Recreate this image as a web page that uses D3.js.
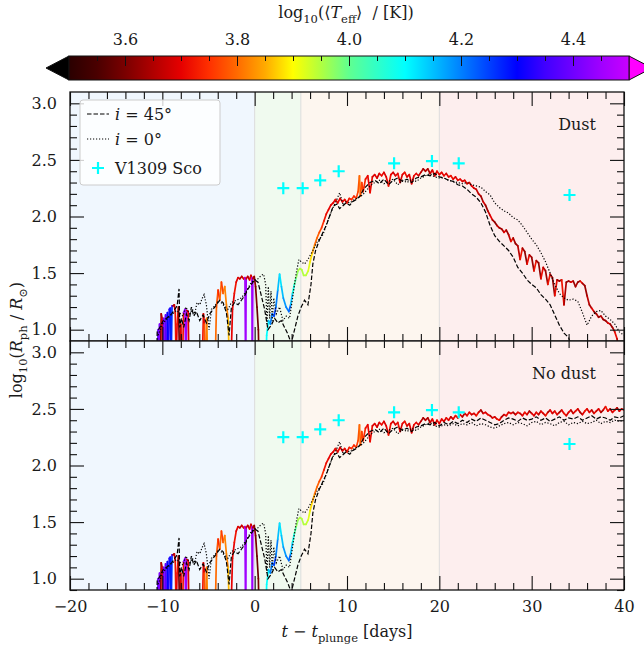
<!DOCTYPE html>
<html>
<head>
<meta charset="utf-8">
<script src="https://cdn.jsdelivr.net/npm/d3@7"></script>
<style>
  body { margin: 0; background: #fff; }
  svg { display: block; }
  text { font-family: "DejaVu Serif", serif; fill: #1a1a1a; }
</style>
</head>
<body>
<svg id="fig" width="644" height="650"></svg>
<script>
// ---------------- data ----------------
// Coloured photosphere track (shared by both runs until dust forms)
const colEarlyT = [-10.55,-10.45,-10.40,-10.30,-10.22,-10.12,-10.02,-9.95,-9.85,-9.75,-9.65,-9.55,-9.45,-9.35,-9.25,-9.15,-9.05,-8.95,-8.85,-8.70,
  -8.60,-8.50,-8.40,-8.25,-8.15,-8.00,-7.85,-7.70,-7.55,-7.45,-7.35,-7.20,-7.10,-5.70,-5.55,-5.45,-5.35,-5.20,-5.05,-4.30,
  -4.14,-3.96,-3.78,-3.60,-3.42,-3.24,-3.06,-2.88,-2.70,-2.60,-2.40,-2.20,-2.00,-1.80,-1.60,-1.40,-1.20,-1.05,-0.98,-0.92,
  -0.75,-0.55,-0.40,-0.30,-0.25,-0.20,-0.05,0.10,0.25,0.40,0.50,1.20,1.30,1.50,1.70,1.90,2.10,2.30,2.50,2.70,
  2.90,3.10,3.40,3.70,3.90,4.10,4.30,4.50,4.70,4.90,5.10,5.30,5.55,5.80,6.00,6.25,6.50,6.75,7.00,7.25,
  7.50,7.75,8.00,8.25,8.50,8.75,9.00,9.25,9.50,9.75,10.00,10.25,10.50,10.75,11.00,11.20,11.35,11.45,11.60,11.75];
const colEarlyR = [0.60,1.00,0.60,1.05,0.60,1.14,1.10,0.60,1.10,0.60,1.13,0.60,1.15,0.70,1.18,1.19,0.70,1.21,1.21,1.22,
  1.15,0.70,1.05,1.20,0.80,1.05,0.60,1.15,1.18,0.60,1.17,1.16,0.60,0.60,1.14,1.05,0.60,1.10,0.60,0.60,
  1.20,1.35,1.26,1.42,1.32,1.38,1.22,1.10,0.60,0.60,1.18,1.32,1.42,1.46,1.45,1.47,1.45,1.46,0.60,1.45,
  1.47,1.44,1.48,1.46,0.60,1.45,1.47,1.38,1.20,1.00,0.60,0.60,0.95,1.08,1.05,1.14,1.12,1.20,1.35,1.49,
  1.38,1.28,1.20,1.16,1.22,1.32,1.40,1.46,1.52,1.54,1.53,1.48,1.48,1.52,1.60,1.68,1.75,1.81,1.86,1.90,
  1.96,2.02,2.06,2.10,2.12,2.15,2.12,2.16,2.13,2.15,2.12,2.16,2.15,2.18,2.16,2.22,2.36,2.18,2.30,2.22];
const colEarlyTeff = [4.35,4.40,4.40,4.42,3.62,3.65,3.70,4.38,4.40,4.42,4.38,4.35,4.30,4.32,4.36,4.28,4.27,4.40,3.62,3.68,
  3.72,3.70,3.72,3.60,3.62,3.70,3.72,4.42,4.45,4.45,3.68,3.70,3.72,3.72,3.70,3.78,3.80,3.82,3.86,3.80,
  3.78,3.74,3.80,3.76,3.80,3.82,3.82,3.86,3.90,3.70,3.70,3.72,3.70,3.69,3.66,3.68,3.70,4.45,4.45,3.68,
  3.66,3.70,3.68,4.45,4.45,3.66,3.62,3.60,3.58,3.60,3.60,4.10,4.10,4.15,4.20,4.22,4.25,4.20,4.15,4.12,
  4.15,4.18,4.20,4.22,4.15,4.08,4.02,3.97,3.95,3.95,3.95,3.95,3.94,3.92,3.88,3.84,3.80,3.79,3.77,3.75,
  3.72,3.71,3.70,3.70,3.70,3.71,3.70,3.69,3.70,3.71,3.72,3.73,3.75,3.74,3.76,3.78,3.80,3.78,3.76,3.74];

// Plateau, t = 12 ... 20 d every 0.25 d (shared)
const plateauR = [2.33,2.36,2.21,2.35,2.37,2.34,2.38,2.36,2.39,2.35,2.27,2.37,2.39,2.36,2.38,2.30,2.37,
  2.39,2.35,2.37,2.29,2.36,2.38,2.36,2.39,2.42,2.40,2.42,2.38,2.41,2.36,2.40,2.37];
const plateauTeff = [3.72,3.70,3.71,3.69,3.70,3.68,3.70,3.71,3.69,3.70,3.72,3.70,3.68,3.70,3.71,3.69,3.70,
  3.72,3.68,3.70,3.69,3.71,3.70,3.67,3.66,3.64,3.66,3.65,3.68,3.70,3.69,3.71,3.70];

// Late phase, t = 20.25 ... 40 d every 0.25 d
const lateRDust = [2.39,2.36,2.38,2.35,2.36,2.33,2.35,2.32,2.33,2.31,2.32,2.29,2.30,2.27,2.25,2.24,
  2.20,2.18,2.13,2.10,2.05,2.01,1.97,1.95,1.92,1.90,1.89,1.86,1.88,1.84,1.78,1.81,
  1.76,1.74,1.62,1.72,1.69,1.58,1.66,1.64,1.52,1.61,1.59,1.45,1.55,1.52,1.40,1.49,
  1.46,1.30,1.44,1.43,1.44,1.22,1.42,1.43,1.42,1.43,1.38,1.42,1.43,1.41,1.39,1.30,
  1.22,1.19,1.16,1.14,1.11,1.12,1.09,1.08,1.06,1.05,1.02,0.98,0.92,0.70,0.60,0.55];
const lateTeffDust = [3.70,3.71,3.69,3.70,3.72,3.70,3.69,3.71,3.70,3.68,3.70,3.71,3.69,3.70,3.68,3.67,
  3.66,3.64,3.68,3.63,3.66,3.70,3.64,3.62,3.67,3.63,3.65,3.70,3.63,3.66,3.72,3.64,
  3.63,3.66,3.72,3.64,3.62,3.71,3.65,3.63,3.72,3.64,3.62,3.71,3.66,3.63,3.72,3.65,
  3.62,3.71,3.64,3.63,3.72,3.65,3.62,3.64,3.70,3.63,3.65,3.62,3.71,3.64,3.63,3.66,
  3.64,3.70,3.62,3.65,3.63,3.66,3.62,3.64,3.70,3.63,3.65,3.71,3.66,3.64,3.62,3.60];
const lateRNoDust = [2.41,2.39,2.42,2.40,2.43,2.41,2.44,2.42,2.45,2.43,2.46,2.44,2.47,2.45,2.46,2.44,
  2.47,2.49,2.46,2.47,2.45,2.44,2.42,2.43,2.41,2.40,2.43,2.45,2.44,2.47,2.46,2.47,
  2.45,2.47,2.46,2.44,2.47,2.45,2.48,2.46,2.44,2.47,2.45,2.48,2.46,2.44,2.47,2.49,
  2.46,2.48,2.45,2.47,2.49,2.46,2.44,2.47,2.49,2.46,2.48,2.50,2.47,2.45,2.48,2.50,
  2.47,2.49,2.46,2.48,2.50,2.47,2.49,2.52,2.48,2.50,2.47,2.49,2.51,2.48,2.50,2.49];
const lateTeffNoDust = [3.70,3.68,3.71,3.69,3.66,3.70,3.72,3.68,3.70,3.65,3.69,3.71,3.70,3.67,3.70,3.72,
  3.68,3.64,3.70,3.69,3.71,3.66,3.70,3.68,3.72,3.70,3.65,3.69,3.71,3.68,3.70,3.64,
  3.69,3.71,3.67,3.70,3.72,3.68,3.64,3.70,3.69,3.71,3.66,3.70,3.68,3.72,3.65,3.70,
  3.68,3.71,3.69,3.64,3.70,3.72,3.68,3.70,3.66,3.69,3.71,3.68,3.64,3.70,3.72,3.69,
  3.70,3.66,3.71,3.68,3.70,3.64,3.69,3.72,3.70,3.67,3.70,3.71,3.65,3.69,3.70,3.68];

// i = 45 deg (dashed) and i = 0 deg (dotted), shared early phase
const dashEarlyT = [-10.63,-10.56,-10.27,-9.91,-9.55,-9.00,-8.65,-8.40,-8.19,-8.11,-7.93,-7.68,-7.39,-7.10,-6.85,
  -6.60,-6.31,-5.95,-5.59,-5.23,-4.86,-4.50,-4.14,-3.78,-3.42,-3.06,-2.77,-2.52,-2.16,-1.80,
  -1.44,-1.08,-0.72,-0.36,0.00,0.36,0.72,1.08,1.44,1.80,2.16,2.52,2.88,3.24,3.60,
  3.96,4.32,4.68,5.04,5.40,5.77,6.10,6.30,6.60,7.00,7.40,7.80,8.10,8.50,8.90,
  9.20,9.50,9.90,10.30,10.60,11.00,11.40,11.80,12.00];
const dashEarlyR = [0.60,0.98,1.02,1.08,1.10,1.14,1.18,1.21,1.36,1.02,1.10,1.02,1.14,1.08,1.20,
  1.12,1.16,1.08,1.13,1.06,1.14,1.18,1.22,1.26,1.24,1.15,0.95,1.20,1.24,1.22,
  1.26,1.30,1.36,1.40,1.44,1.42,1.30,1.18,1.00,1.04,1.10,1.06,1.08,1.02,0.96,
  0.88,1.00,1.12,1.20,1.26,1.22,1.40,1.58,1.70,1.79,1.86,1.93,2.00,2.09,2.11,
  2.07,2.09,2.12,2.10,2.13,2.15,2.18,2.24,2.26];
const dotEarlyT = [-10.45,-9.91,-9.19,-8.47,-7.75,-7.46,-7.03,-6.74,-6.49,-6.24,-5.95,-5.66,-5.48,-5.23,-4.94,
  -4.68,-4.32,-3.86,-3.42,-2.88,-2.52,-1.98,-1.44,-0.90,-0.36,0.00,0.36,0.72,0.97,1.19,
  1.33,1.48,1.62,1.77,1.91,2.06,2.34,2.70,3.06,3.42,3.78,4.14,4.50,4.79,5.04,
  5.40,5.77,6.30,6.80,7.40,7.90,8.50,8.90,9.20,9.60,9.90,10.30,10.80,11.30,11.70,12.00];
const dotEarlyR = [0.95,1.06,1.12,1.17,1.12,1.20,1.14,1.18,1.14,1.24,1.22,1.28,1.31,1.22,1.00,
  1.18,1.21,1.26,1.22,1.18,1.24,1.26,1.28,1.34,1.42,1.44,1.45,1.48,1.49,1.40,
  1.05,1.38,1.10,1.34,1.08,1.28,1.14,1.20,1.08,1.12,1.10,1.30,1.50,1.62,1.60,
  1.58,1.62,1.70,1.78,1.84,1.96,2.08,2.15,2.21,2.10,2.13,2.12,2.15,2.17,2.19,2.22];
// t = 12.5 ... 20 d every 0.5 d (shared)
const dashMidR = [2.30,2.32,2.29,2.33,2.28,2.32,2.34,2.31,2.33,2.30,2.34,2.35,2.37,2.36,2.38,2.35];
const dotMidR  = [2.27,2.30,2.32,2.29,2.31,2.33,2.28,2.32,2.30,2.33,2.31,2.34,2.36,2.38,2.35,2.34];
// t = 20.5 ... 40 d every 0.5 d
const dashLateRDust = [2.34,2.32,2.31,2.28,2.27,2.24,2.20,2.17,2.12,2.04,1.92,1.83,1.78,1.74,1.70,
  1.64,1.55,1.50,1.44,1.40,1.37,1.31,1.27,1.22,1.13,1.04,0.97,0.93,0.80,0.60];
const dotLateRDust = [2.34,2.32,2.31,2.30,2.29,2.30,2.28,2.27,2.26,2.22,2.19,2.12,2.08,2.05,2.03,
  1.99,1.97,1.92,1.86,1.80,1.75,1.68,1.60,1.50,1.40,1.32,1.28,1.26,1.27,1.25,
  1.15,1.04,1.12,1.16,1.17,1.12,1.09,1.05,0.98,0.95];
const dashLateRNoDust = [2.38,2.36,2.39,2.37,2.40,2.38,2.41,2.39,2.42,2.40,2.38,2.36,2.37,2.40,2.42,
  2.41,2.39,2.42,2.40,2.41,2.43,2.40,2.42,2.39,2.41,2.43,2.40,2.42,2.41,2.43,
  2.40,2.42,2.44,2.41,2.43,2.42,2.40,2.43,2.42,2.44];
const dotLateRNoDust = [2.36,2.35,2.37,2.35,2.37,2.36,2.38,2.35,2.37,2.36,2.34,2.33,2.35,2.37,2.38,
  2.36,2.38,2.37,2.35,2.38,2.39,2.36,2.38,2.37,2.35,2.38,2.39,2.36,2.38,2.37,
  2.39,2.37,2.38,2.40,2.37,2.39,2.38,2.40,2.39,2.40];

// V1309 Sco observations
const obsT = [3.1, 5.2, 7.1, 9.1, 15.1, 19.2, 22.1, 34.1];
const obsR = [2.25, 2.25, 2.32, 2.40, 2.47, 2.49, 2.47, 2.19];

// Evolution phases (shaded backgrounds)
const phaseEdges = [-20, 0, 5, 20, 40];
const phaseFills = ["#f0f7fe", "#f0faef", "#fdf6ef", "#fdeeee"];

// Axis ticks
const xMajor = [-20, -10, 0, 10, 20, 30, 40];
const yMajor = [1.0, 1.5, 2.0, 2.5, 3.0];
const cbMajor = [3.6, 3.8, 4.0, 4.2, 4.4];

// Temperature colour map
const cmapStops = [3.50,3.55,3.60,3.65,3.70,3.75,3.80,3.85,3.90,3.95,4.00,4.05,4.10,4.15,4.20,4.25,4.30,4.35,4.40,4.45,4.50];
const cmapColors = ["#2a0000","#4a0000","#7a0000","#b00000","#e60000","#ff3000","#ff6a00","#ffaa00","#ffff00","#b0ff40",
  "#60ff90","#30ffc8","#00ffff","#00c0ff","#0080ff","#0040ff","#0000ff","#4000ff","#7000ff","#a000ff","#c800ff"];

// ---------------- layout ----------------
const svg = d3.select("#fig");
const X0 = 70, X1 = 624;
const FS = 16;
const x = d3.scaleLinear().domain([-20, 40]).range([X0, X1]);
const cmap = d3.scaleLinear().domain(cmapStops).range(cmapColors).interpolate(d3.interpolateRgb).clamp(true);

const plateauT = d3.range(12, 20.001, 0.25);
const lateT = d3.range(20.25, 40.001, 0.25);
const midBlackT = d3.range(12.5, 20.001, 0.5);
const lateBlackT = d3.range(20.5, 40.001, 0.5);

function track(lateR, lateTeff) {
  const t = colEarlyT.concat(plateauT, lateT);
  const r = colEarlyR.concat(plateauR, lateR);
  const te = colEarlyTeff.concat(plateauTeff, lateTeff);
  return t.map((d, i) => ({ t: d, r: r[i], te: te[i] }));
}
function blackLine(earlyT, earlyR, midR, lateR) {
  const pts = earlyT.map((d, i) => [d, earlyR[i]]);
  midR.forEach((v, i) => pts.push([midBlackT[i], v]));
  lateR.forEach((v, i) => pts.push([lateBlackT[i], v]));
  return pts;
}

const panels = [
  { y0: 92, y1: 341, label: "Dust", labelY: 130,
    track: track(lateRDust, lateTeffDust),
    dash: blackLine(dashEarlyT, dashEarlyR, dashMidR, dashLateRDust),
    dot: blackLine(dotEarlyT, dotEarlyR, dotMidR, dotLateRDust), xLabels: false },
  { y0: 341, y1: 590, label: "No dust", labelY: 379,
    track: track(lateRNoDust, lateTeffNoDust),
    dash: blackLine(dashEarlyT, dashEarlyR, dashMidR, dashLateRNoDust),
    dot: blackLine(dotEarlyT, dotEarlyR, dotMidR, dotLateRNoDust), xLabels: true }
];

function richText(sel, parts, size) {
  let shift = 0;
  parts.forEach(p => {
    const ts = sel.append("tspan").text(p.t);
    const target = p.sub ? size * 0.32 : 0;
    if (target !== shift) { ts.attr("dy", target - shift); shift = target; }
    if (p.sub) ts.attr("font-size", size * 0.72);
    if (p.it) ts.attr("font-style", "italic");
  });
}
const crossPath = "M-6,0H6M0,-6V6";

panels.forEach((p, k) => {
  const y = d3.scaleLinear().domain([0.9, 3.1]).range([p.y1, p.y0]);
  const g = svg.append("g");
  const clipId = "clip" + k;
  svg.append("clipPath").attr("id", clipId).append("rect")
    .attr("x", X0).attr("y", p.y0).attr("width", X1 - X0).attr("height", p.y1 - p.y0);
  const plot = g.append("g").attr("clip-path", `url(#${clipId})`);

  // phase shading
  plot.selectAll("rect.phase").data(d3.range(phaseFills.length)).join("rect")
    .attr("x", i => x(phaseEdges[i])).attr("width", i => x(phaseEdges[i + 1]) - x(phaseEdges[i]))
    .attr("y", p.y0).attr("height", p.y1 - p.y0).attr("fill", i => phaseFills[i]);
  plot.selectAll("line.sep").data(phaseEdges.slice(1, -1)).join("line")
    .attr("x1", d => x(d)).attr("x2", d => x(d)).attr("y1", p.y0).attr("y2", p.y1)
    .attr("stroke", "#dcdcdc").attr("stroke-width", 1);

  // coloured track, each segment coloured by temperature
  const segs = d3.pairs(p.track);
  plot.append("g").selectAll("line").data(segs).join("line")
    .attr("x1", d => x(d[0].t)).attr("y1", d => y(d[0].r))
    .attr("x2", d => x(d[1].t)).attr("y2", d => y(d[1].r))
    .attr("stroke", d => cmap(d[0].te)).attr("stroke-width", 1.7).attr("stroke-linecap", "round");

  const line = d3.line().x(d => x(d[0])).y(d => y(d[1]));
  plot.append("path").attr("d", line(p.dash)).attr("fill", "none")
    .attr("stroke", "#000").attr("stroke-width", 1.2).attr("stroke-dasharray", "4.5,2");
  plot.append("path").attr("d", line(p.dot)).attr("fill", "none")
    .attr("stroke", "#000").attr("stroke-width", 1.2).attr("stroke-dasharray", "1.2,1.8");

  // observations
  plot.selectAll("path.obs").data(obsT).join("path")
    .attr("d", crossPath).attr("transform", (d, i) => `translate(${x(d)},${y(obsR[i])})`)
    .attr("stroke", "#00ffff").attr("stroke-width", 2.2).attr("fill", "none");

  // axes with inward ticks
  const styleAxis = a => a.call(s => s.select(".domain").remove())
    .attr("font-size", FS).attr("font-family", "DejaVu Serif")
    .call(s => s.selectAll("line").attr("stroke", "#111").attr("stroke-width", 1.1));
  const xMinor = d3.range(-20, 40.1, 2).filter(v => v % 10 !== 0);
  const yMinor = d3.range(9, 31).map(v => v / 10).filter(v => Math.round(v * 10) % 5 !== 0);
  const fmtX = d => d < 0 ? "\u2212" + Math.abs(d) : String(d);

  g.append("g").attr("transform", `translate(0,${p.y1})`)
    .call(d3.axisBottom(x).tickValues(xMajor).tickSize(-14).tickPadding(11).tickFormat(p.xLabels ? fmtX : () => ""))
    .call(styleAxis);
  g.append("g").attr("transform", `translate(0,${p.y1})`)
    .call(d3.axisBottom(x).tickValues(xMinor).tickSize(-7).tickFormat(() => "")).call(styleAxis);
  g.append("g").attr("transform", `translate(0,${p.y0})`)
    .call(d3.axisTop(x).tickValues(xMajor).tickSize(-14).tickFormat(() => "")).call(styleAxis);
  g.append("g").attr("transform", `translate(0,${p.y0})`)
    .call(d3.axisTop(x).tickValues(xMinor).tickSize(-7).tickFormat(() => "")).call(styleAxis);
  g.append("g").attr("transform", `translate(${X0},0)`)
    .call(d3.axisLeft(y).tickValues(yMajor).tickSize(-14).tickPadding(13).tickFormat(d3.format(".1f")))
    .call(styleAxis);
  g.append("g").attr("transform", `translate(${X0},0)`)
    .call(d3.axisLeft(y).tickValues(yMinor).tickSize(-7).tickFormat(() => "")).call(styleAxis);
  g.append("g").attr("transform", `translate(${X1},0)`)
    .call(d3.axisRight(y).tickValues(yMajor).tickSize(-14).tickFormat(() => "")).call(styleAxis);
  g.append("g").attr("transform", `translate(${X1},0)`)
    .call(d3.axisRight(y).tickValues(yMinor).tickSize(-7).tickFormat(() => "")).call(styleAxis);

  g.append("rect").attr("x", X0).attr("y", p.y0).attr("width", X1 - X0).attr("height", p.y1 - p.y0)
    .attr("fill", "none").attr("stroke", "#111").attr("stroke-width", 1.3);

  g.append("text").attr("x", 596).attr("y", p.labelY).attr("text-anchor", "end")
    .attr("font-size", FS).text(p.label);
});

// legend
const lg = svg.append("g");
lg.append("rect").attr("x", 80).attr("y", 100).attr("width", 140).attr("height", 85).attr("rx", 3)
  .attr("fill", "#fff").attr("fill-opacity", 0.8).attr("stroke", "#cccccc").attr("stroke-width", 1);
const legendRows = [
  { y: 114, kind: "dash", parts: [{ t: "i", it: true }, { t: " = 45°" }] },
  { y: 139, kind: "dot", parts: [{ t: "i", it: true }, { t: " = 0°" }] },
  { y: 168, kind: "obs", parts: [{ t: "V1309 Sco" }] }
];
legendRows.forEach(r => {
  if (r.kind === "obs") {
    lg.append("path").attr("d", crossPath).attr("transform", `translate(98,${r.y})`)
      .attr("stroke", "#00ffff").attr("stroke-width", 2.2);
  } else {
    lg.append("line").attr("x1", 87).attr("x2", 109).attr("y1", r.y).attr("y2", r.y)
      .attr("stroke", "#000").attr("stroke-width", 1.2)
      .attr("stroke-dasharray", r.kind === "dash" ? "4.5,2" : "1.2,1.8");
  }
  const t = lg.append("text").attr("x", 115).attr("y", r.y + 6).attr("font-size", FS).style("white-space", "pre");
  richText(t, r.parts, FS);
});

// axis titles
const yt = svg.append("text").attr("transform", "translate(22,340) rotate(-90)")
  .attr("text-anchor", "middle").attr("font-size", FS).style("white-space", "pre");
richText(yt, [{ t: "log" }, { t: "10", sub: true }, { t: "(" }, { t: "R", it: true }, { t: "ph", sub: true },
  { t: " / " }, { t: "R", it: true }, { t: "\u2299", sub: true }, { t: ")" }], FS);

const xt = svg.append("text").attr("x", 347).attr("y", 637).attr("text-anchor", "middle")
  .attr("font-size", FS).style("white-space", "pre");
richText(xt, [{ t: "t", it: true }, { t: " \u2212 " }, { t: "t", it: true }, { t: "plunge", sub: true }, { t: " [days]" }], FS);

// colour bar
const cbY = 56, cbH = 24;
const cbx = d3.scaleLinear().domain([3.5, 4.5]).range([69, 629]);
const defs = svg.append("defs");
const grad = defs.append("linearGradient").attr("id", "cbgrad");
grad.selectAll("stop").data(cmapStops).join("stop")
  .attr("offset", d => ((d - 3.5) / 1.0 * 100) + "%").attr("stop-color", d => cmap(d));
const cb = svg.append("g");
cb.append("path").attr("d", `M${cbx(3.5)},${cbY}L${cbx(3.5) - 23},${cbY + cbH / 2}L${cbx(3.5)},${cbY + cbH}Z`)
  .attr("fill", "#000").attr("stroke", "#111").attr("stroke-width", 1);
cb.append("path").attr("d", `M${cbx(4.5)},${cbY}L${cbx(4.5) + 23},${cbY + cbH / 2}L${cbx(4.5)},${cbY + cbH}Z`)
  .attr("fill", "#ff00ff").attr("stroke", "#111").attr("stroke-width", 1);
cb.append("rect").attr("x", cbx(3.5)).attr("y", cbY).attr("width", cbx(4.5) - cbx(3.5)).attr("height", cbH)
  .attr("fill", "url(#cbgrad)").attr("stroke", "#111").attr("stroke-width", 1);
const cbMinor = d3.range(71, 90).map(v => v / 20).filter(v => !cbMajor.some(m => Math.abs(m - v) < 1e-6));
cb.append("g").attr("transform", `translate(0,${cbY})`)
  .call(d3.axisTop(cbx).tickValues(cbMajor).tickSize(-10).tickPadding(11).tickFormat(d3.format(".1f")))
  .call(s => s.select(".domain").remove()).attr("font-size", FS).attr("font-family", "DejaVu Serif")
  .call(s => s.selectAll("line").attr("stroke", "#111"));
cb.append("g").attr("transform", `translate(0,${cbY})`)
  .call(d3.axisTop(cbx).tickValues(cbMinor).tickSize(-5).tickFormat(() => ""))
  .call(s => s.select(".domain").remove())
  .call(s => s.selectAll("line").attr("stroke", "#111"));
const ct = svg.append("text").attr("x", 346).attr("y", 18).attr("text-anchor", "middle")
  .attr("font-size", FS).style("white-space", "pre");
richText(ct, [{ t: "log" }, { t: "10", sub: true }, { t: "(\u27e8" }, { t: "T", it: true }, { t: "eff", sub: true },
  { t: "\u27e9  / [K])" }], FS);
</script>
</body>
</html>
